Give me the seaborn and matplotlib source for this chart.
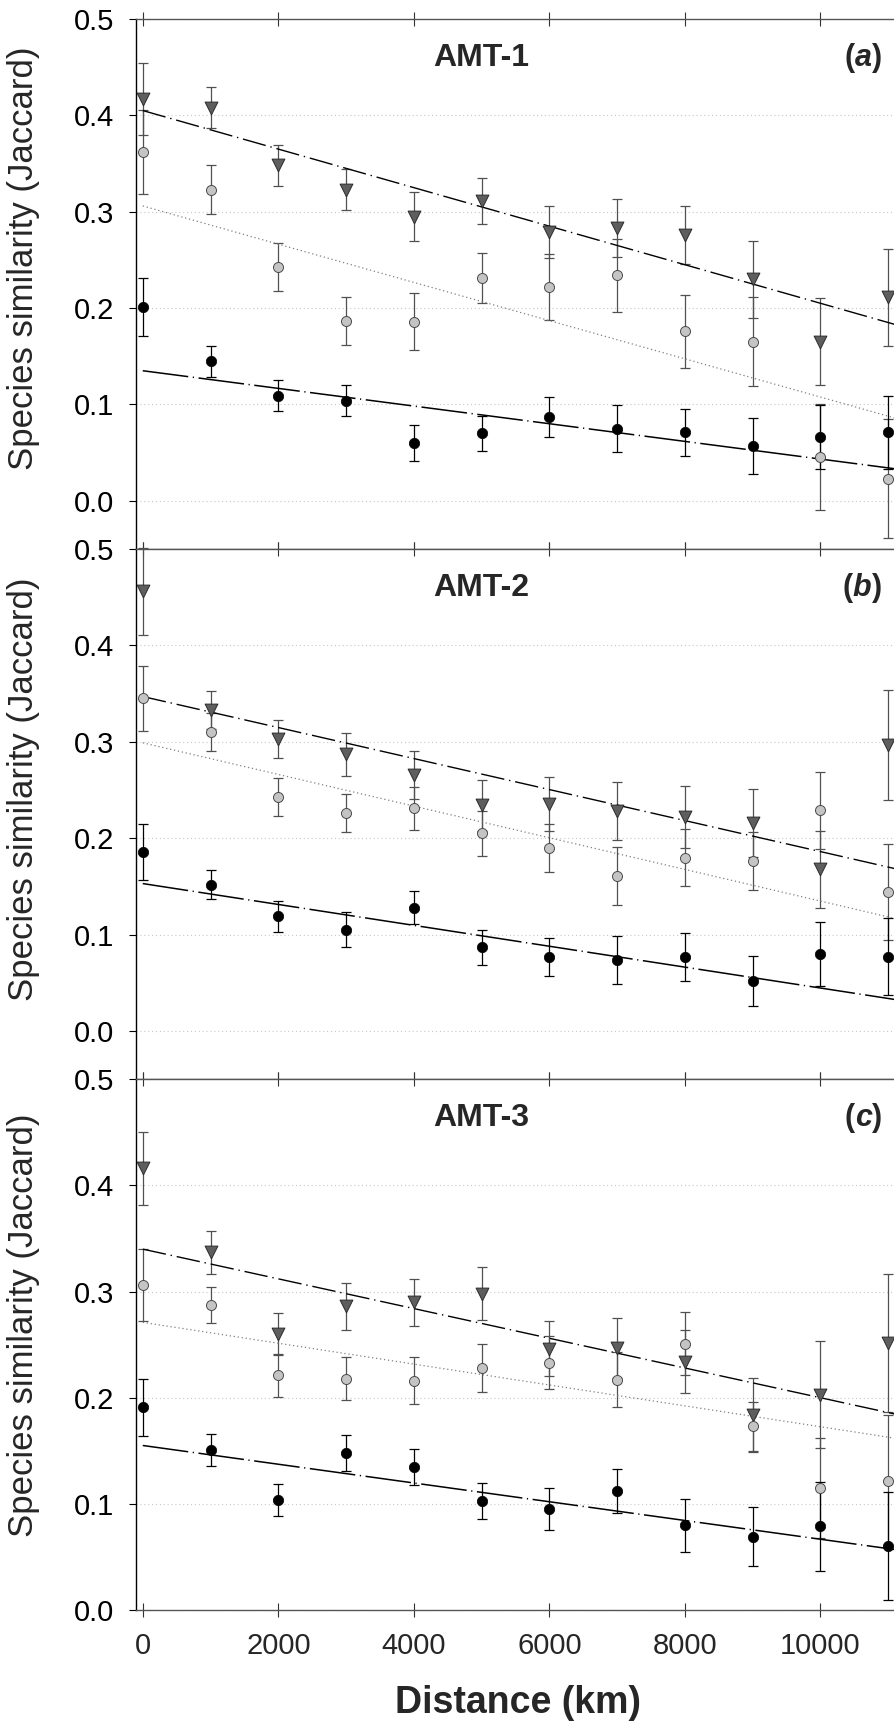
import matplotlib
matplotlib.use("Agg")
import matplotlib.pyplot as plt
import matplotlib.transforms as mtransforms
import seaborn as sns

# distance classes (km)
distance = [0, 1000, 2000, 3000, 4000, 5000, 6000, 7000, 8000, 9000, 10000, 11000]

## AMT-1
amt1_tri = [0.417, 0.408, 0.348, 0.323, 0.295, 0.311, 0.279, 0.283, 0.276, 0.230, 0.165, 0.211]
amt1_tri_se = [0.037, 0.021, 0.021, 0.021, 0.025, 0.024, 0.027, 0.030, 0.030, 0.040, 0.045, 0.050]
amt1_grey = [0.362, 0.323, 0.243, 0.187, 0.186, 0.231, 0.222, 0.234, 0.176, 0.165, 0.045, 0.023]
amt1_grey_se = [0.044, 0.025, 0.025, 0.025, 0.030, 0.026, 0.034, 0.038, 0.038, 0.046, 0.055, 0.062]
amt1_black = [0.201, 0.145, 0.109, 0.104, 0.060, 0.070, 0.087, 0.075, 0.071, 0.057, 0.066, 0.071]
amt1_black_se = [0.030, 0.016, 0.016, 0.016, 0.019, 0.018, 0.021, 0.024, 0.024, 0.029, 0.033, 0.038]

## AMT-2
amt2_tri = [0.456, 0.333, 0.303, 0.287, 0.266, 0.234, 0.236, 0.228, 0.222, 0.216, 0.168, 0.297]
amt2_tri_se = [0.045, 0.020, 0.020, 0.022, 0.025, 0.026, 0.028, 0.030, 0.032, 0.035, 0.040, 0.057]
amt2_grey = [0.345, 0.310, 0.243, 0.226, 0.231, 0.205, 0.190, 0.161, 0.180, 0.176, 0.229, 0.144]
amt2_grey_se = [0.034, 0.020, 0.020, 0.020, 0.022, 0.023, 0.025, 0.030, 0.030, 0.030, 0.040, 0.050]
amt2_black = [0.186, 0.152, 0.119, 0.105, 0.128, 0.087, 0.077, 0.074, 0.077, 0.052, 0.080, 0.077]
amt2_black_se = [0.029, 0.015, 0.016, 0.018, 0.017, 0.018, 0.020, 0.025, 0.025, 0.026, 0.033, 0.040]

## AMT-3
amt3_tri = [0.416, 0.337, 0.260, 0.286, 0.290, 0.298, 0.246, 0.247, 0.234, 0.184, 0.203, 0.252]
amt3_tri_se = [0.034, 0.020, 0.020, 0.022, 0.022, 0.025, 0.026, 0.028, 0.030, 0.035, 0.050, 0.065]
amt3_grey = [0.306, 0.287, 0.221, 0.218, 0.216, 0.228, 0.233, 0.217, 0.251, 0.173, 0.115, 0.122]
amt3_grey_se = [0.034, 0.017, 0.020, 0.020, 0.022, 0.023, 0.025, 0.026, 0.030, 0.023, 0.047, 0.062]
amt3_black = [0.191, 0.151, 0.104, 0.148, 0.135, 0.103, 0.095, 0.112, 0.080, 0.069, 0.079, 0.060]
amt3_black_se = [0.027, 0.015, 0.015, 0.017, 0.017, 0.017, 0.020, 0.021, 0.025, 0.028, 0.042, 0.051]

fit_x = [0, 12000]
amt1_tri_fit = [0.405, 0.165]
amt1_grey_fit = [0.306, 0.068]
amt1_black_fit = [0.135, 0.025]
amt2_tri_fit = [0.347, 0.154]
amt2_grey_fit = [0.299, 0.102]
amt2_black_fit = [0.153, 0.023]
amt3_tri_fit = [0.340, 0.172]
amt3_grey_fit = [0.271, 0.153]
amt3_black_fit = [0.155, 0.049]

titles = ["AMT-1", "AMT-2", "AMT-3"]
letters = ["a", "b", "c"]
xticks = [0, 2000, 4000, 6000, 8000, 10000]
yticks = [0.0, 0.1, 0.2, 0.3, 0.4, 0.5]

panels = [
    dict(tri=amt1_tri, tri_se=amt1_tri_se, grey=amt1_grey, grey_se=amt1_grey_se,
         black=amt1_black, black_se=amt1_black_se,
         tri_fit=amt1_tri_fit, grey_fit=amt1_grey_fit, black_fit=amt1_black_fit),
    dict(tri=amt2_tri, tri_se=amt2_tri_se, grey=amt2_grey, grey_se=amt2_grey_se,
         black=amt2_black, black_se=amt2_black_se,
         tri_fit=amt2_tri_fit, grey_fit=amt2_grey_fit, black_fit=amt2_black_fit),
    dict(tri=amt3_tri, tri_se=amt3_tri_se, grey=amt3_grey, grey_se=amt3_grey_se,
         black=amt3_black, black_se=amt3_black_se,
         tri_fit=amt3_tri_fit, grey_fit=amt3_grey_fit, black_fit=amt3_black_fit),
]

sns.set_style("ticks")
plt.rcParams['font.family'] = ['Liberation Sans', 'DejaVu Sans']

W, H = 894, 1734
fig = plt.figure(figsize=(W / 100, H / 100), dpi=100)

# panel geometry in pixels (axes run on past the right edge, as in the original)
left_px, right_px = 136, 956
tops = [19, 549, 1079.3]
bottoms = [549, 1079.3, 1610]
ylims = [(-0.05, 0.5), (-0.05, 0.5), (0.0, 0.5)]
ylabel_y = [258, 789, 1325]

tri_col, tri_edge = '#5e5e5e', '#2b2b2b'
grey_col, grey_edge = '#c4c4c4', '#4a4a4a'
bar_col = '#505050'

for i, p in enumerate(panels):
    ax = fig.add_axes([left_px / W, 1 - bottoms[i] / H,
                       (right_px - left_px) / W, (bottoms[i] - tops[i]) / H])
    ax.set_xlim(-100, 12000)
    ax.set_ylim(*ylims[i])
    ax.set_xticks(xticks)
    ax.set_yticks(yticks)
    ax.set_yticklabels([f'{v:.1f}' for v in yticks])
    ax.yaxis.grid(True, linestyle=(0, (1, 2.5)), color='#c8c8c8', lw=0.8, zorder=0)
    ax.set_axisbelow(True)

    for side in ['top', 'bottom']:
        ax.spines[side].set_color('#555555')
        ax.spines[side].set_linewidth(1.0)
    ax.spines['left'].set_color('black')
    ax.spines['left'].set_linewidth(1.0)
    ax.spines['right'].set_visible(False)

    ax.tick_params(axis='y', direction='out', length=5, width=0.8, labelsize=21,
                   pad=11, colors='black')
    ax.tick_params(axis='x', direction='inout', length=10, width=0.8, top=True,
                   bottom=True, labelbottom=(i == 2), labeltop=False,
                   labelsize=21, pad=11, color='#333333')

    # error bars
    for vals, se, col in [(p['tri'], p['tri_se'], bar_col),
                          (p['grey'], p['grey_se'], bar_col),
                          (p['black'], p['black_se'], 'black')]:
        eb = ax.errorbar(distance, vals, yerr=se, fmt='none', ecolor=col,
                         elinewidth=0.9, capsize=3.6, capthick=0.9, zorder=2)
        for child in eb.get_children():
            child.set_clip_on(False)

    # regression lines
    sns.lineplot(x=fit_x, y=p['tri_fit'], ax=ax, color='black', lw=1.0,
                 linestyle=(0, (17, 3.5, 1, 3.5)), zorder=3)
    sns.lineplot(x=fit_x, y=p['grey_fit'], ax=ax, color='#808080', lw=0.9,
                 linestyle=(0, (1, 2.2)), zorder=3)
    sns.lineplot(x=fit_x, y=p['black_fit'], ax=ax, color='black', lw=1.1,
                 linestyle=(0, (30, 3, 0.8, 3)), zorder=3)

    # markers
    sns.scatterplot(x=distance, y=p['tri'], ax=ax, marker='v', s=85, color=tri_col,
                    edgecolor=tri_edge, linewidth=0.7, zorder=4, clip_on=False)
    sns.scatterplot(x=distance, y=p['grey'], ax=ax, marker='o', s=52, color=grey_col,
                    edgecolor=grey_edge, linewidth=0.7, zorder=5, clip_on=False)
    sns.scatterplot(x=distance, y=p['black'], ax=ax, marker='o', s=56, color='black',
                    edgecolor='black', linewidth=0.5, zorder=6, clip_on=False)

    ax.set_xlabel('')
    ax.set_ylabel('')

    # panel titles
    ty = 1 - 39 / (bottoms[i] - tops[i])
    trans = mtransforms.blended_transform_factory(ax.transData, ax.transAxes)
    ax.text(5000, ty, titles[i], transform=trans, ha='center', va='center',
            fontsize=23, fontweight='bold')
    t_close = ax.text(10904, ty, ')', transform=trans, ha='right', va='center',
                      fontsize=22, fontweight='bold')
    t_let = ax.annotate(letters[i], xy=(0, 0), xycoords=t_close, ha='right',
                        va='bottom', fontsize=22, fontweight='bold', fontstyle='italic')
    ax.annotate('(', xy=(0, 0), xycoords=t_let, ha='right', va='bottom',
                fontsize=22, fontweight='bold')

    fig.text(24 / W, 1 - ylabel_y[i] / H, 'Species similarity (Jaccard)',
             rotation=90, ha='center', va='center', fontsize=25)

fig.text(518 / W, 1 - 1703 / H, 'Distance (km)', ha='center', va='center',
         fontsize=27, fontweight='bold')

plt.savefig('out.png', dpi=100)
